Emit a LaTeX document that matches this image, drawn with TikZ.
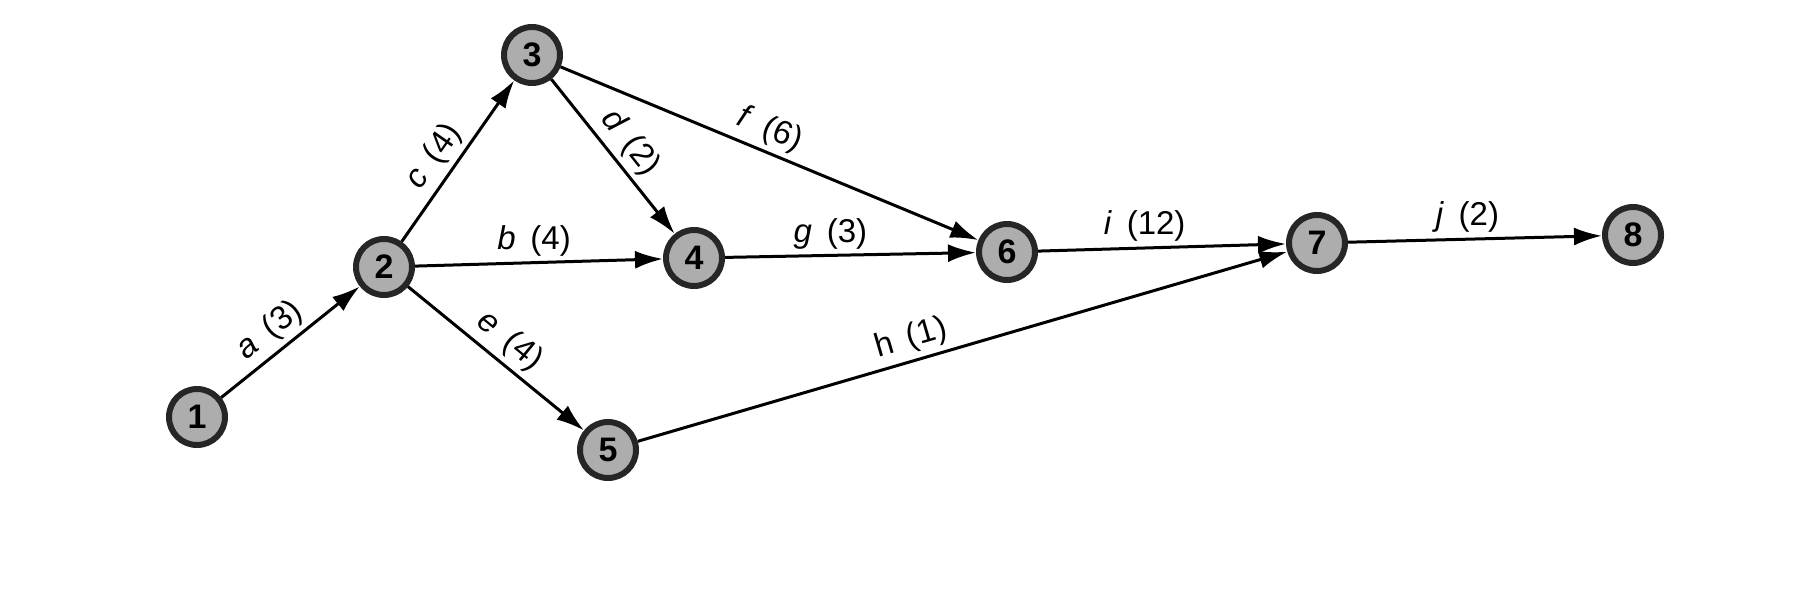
\documentclass[tikz,border=0pt]{standalone}
\usepackage{fontspec}
\setmainfont{Liberation Sans}
\usetikzlibrary{arrows.meta}
\begin{document}
\begin{tikzpicture}[x=1pt,y=-1pt,
  ev/.style={circle,draw=black!85,line width=6pt,fill=black!32,minimum size=56pt,inner sep=0pt,font=\fontsize{34}{36}\selectfont\bfseries},
  act/.style={line width=3pt,-{Latex[length=28pt,width=18pt]}},
  lab/.style={font=\fontsize{33}{36}\selectfont,inner sep=5pt}]
\useasboundingbox (0,0) rectangle (1817,608);
\fill[white] (0,0) rectangle (1817,608);
\node[ev] (n1) at (197,417) {1};
\node[ev] (n2) at (384,267) {2};
\node[ev] (n3) at (532,55) {3};
\node[ev] (n4) at (694,258) {4};
\node[ev] (n5) at (608,450) {5};
\node[ev] (n6) at (1007,252) {6};
\node[ev] (n7) at (1317,243) {7};
\node[ev] (n8) at (1633,235) {8};
\newcommand{\lb}[2]{\textit{#1}\hspace{0.45em}(#2)}
\draw[act] (n1) -- node[lab,sloped,above,pos=0.45] {\lb{a}{3}} (n2);
\draw[act] (n2) -- node[lab,sloped,above,pos=0.45] {\lb{c}{4}} (n3);
\draw[act] (n2) -- node[lab,above,pos=0.48] {\lb{b}{4}} (n4);
\draw[act] (n2) -- node[lab,sloped,above,pos=0.5] {\lb{e}{4}} (n5);
\draw[act] (n3) -- node[lab,sloped,above,pos=0.5] {\lb{d}{2}} (n4);
\draw[act] (n3) -- node[lab,sloped,above,pos=0.48] {\lb{f}{6}} (n6);
\draw[act] (n4) -- node[lab,above,pos=0.42] {\lb{g}{3}} (n6);
\draw[act] (n5) -- node[lab,sloped,above,pos=0.43] {h\hspace{0.45em}(1)} (n7);
\draw[act] (n6) -- node[lab,above,pos=0.43] {\lb{i}{12}} (n7);
\draw[act] (n7) -- node[lab,above,pos=0.47] {\lb{j}{2}} (n8);
\end{tikzpicture}
\end{document}
